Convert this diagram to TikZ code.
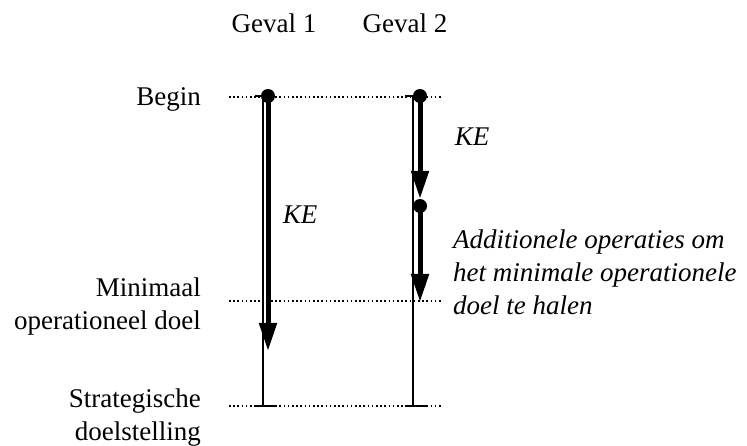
\documentclass[tikz,border=0pt]{standalone}
\usepackage{fontspec}
\setmainfont{Liberation Serif}
\usetikzlibrary{arrows.meta}
\begin{document}
\begin{tikzpicture}[x=1pt,y=-1pt,
  lbl/.style={font=\fontsize{27}{33}\selectfont, inner sep=0pt},
  side/.style={lbl, align=right, anchor=north east},
  ital/.style={lbl, font=\fontsize{27}{33}\selectfont\itshape},
  level/.style={line width=1.3pt, dash pattern=on 1.6pt off 2.6pt},
  track/.style={line width=1.1pt},
  tick/.style={line width=1.1pt},
  dot/.style={circle, fill=black, minimum size=14pt, inner sep=0pt},
  flow/.style={line width=5pt, -{Triangle[length=28pt,width=17pt]}}]
\useasboundingbox (0,0) rectangle (747,446);

% column headings
\node[lbl, anchor=base] (g1) at (274,33) {Geval 1};
\node[lbl, anchor=base] (g2) at (405,33) {Geval 2};

% level labels
\node[lbl, anchor=base east] (begin) at (201,106) {Begin};
\node[side] (mini) at (201,278) {Minimaal\\operationeel doel};
\node[side] (strat) at (201,389) {Strategische\\doelstelling};

% level lines
\coordinate (l1a) at (229,97);  \coordinate (l1b) at (443,97);
\coordinate (l2a) at (229,301); \coordinate (l2b) at (443,301);
\coordinate (l3a) at (229,406); \coordinate (l3b) at (443,406);
\draw[level] (l1a) -- (l1b);
\draw[level] (l2a) -- (l2b);
\draw[level] (l3a) -- (l3b);

% thin tracks from begin to strategic goal
\coordinate (t1top) at (263,97);  \coordinate (t1bot) at (263,406);
\coordinate (t2top) at (413,97);  \coordinate (t2bot) at (413,406);
\draw[track] (t1top) -- (t1bot);
\draw[track] (t2top) -- (t2bot);
\draw[tick] (255,406) -- (276,406);
\draw[tick] (405,406) -- (428,406);
\draw[tick] (255,96) -- (266,96);
\draw[tick] (405,96) -- (418,96);

% case 1
\node[dot] (s1) at (268,96) {};
\coordinate (e1) at (268,351);
\draw[flow] (s1.center) -- (e1);
\node[ital] (ke1) at (300,215) {KE};

% case 2
\node[dot] (s2) at (420,96) {};
\node[dot] (m2) at (420,206) {};
\coordinate (e2) at (420,302);
\draw[flow] (s2.center) -- (m2.north);
\draw[flow] (m2.center) -- (e2);
\node[ital] (ke2) at (472,137) {KE};
\node[ital, align=left, anchor=north west] (add) at (453,230)
  {Additionele operaties om\\het minimale operationele\\doel te halen};
\end{tikzpicture}
\end{document}
